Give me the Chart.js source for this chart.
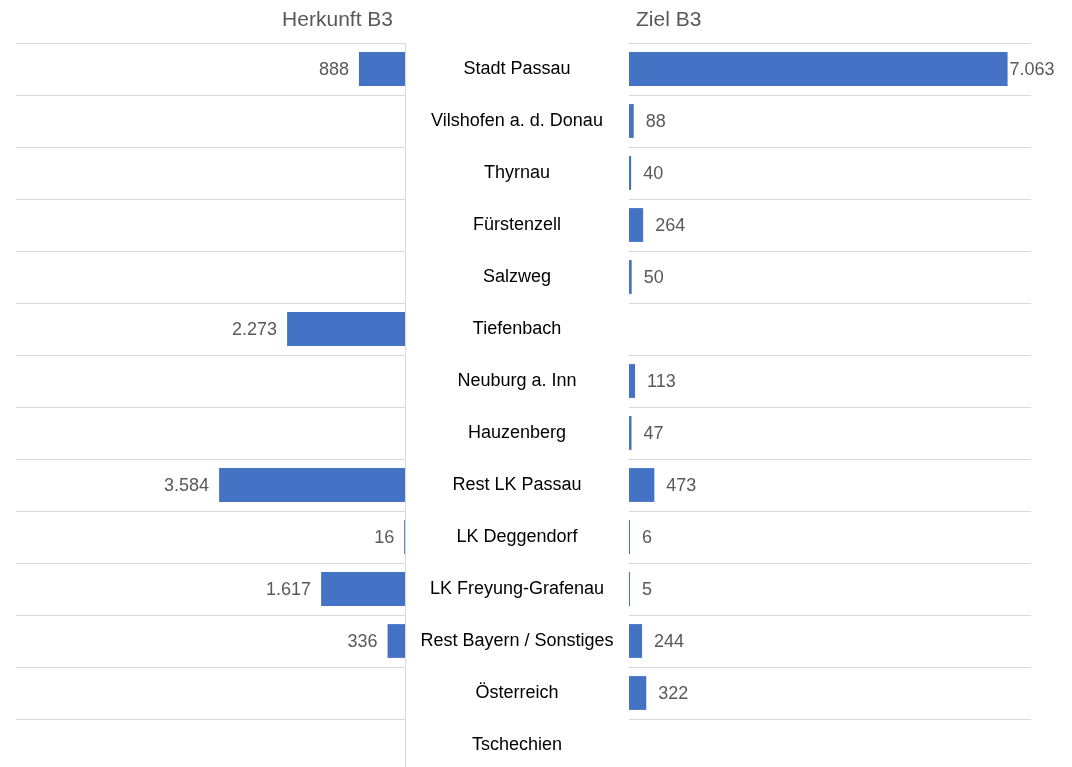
<!DOCTYPE html>
<html>
<head>
<meta charset="utf-8">
<script src="https://cdn.jsdelivr.net/npm/chart.js@4.4.1/dist/chart.umd.min.js"></script>
<style>
  html, body { margin: 0; padding: 0; background: #fff; overflow: hidden; }
  #wrap { position: relative; width: 1072px; height: 767px; overflow: hidden; }
  #leftCanvas  { position: absolute; left: 0;     top: 0; }
  #rightCanvas { position: absolute; left: 629px; top: 0; }
</style>
</head>
<body>
<div id="wrap">
  <canvas id="leftCanvas" width="629" height="800"></canvas>
  <canvas id="rightCanvas" width="443" height="800"></canvas>
</div>
<script>
// data
const categories = [
    'Stadt Passau', 'Vilshofen a. d. Donau', 'Thyrnau', 'Fürstenzell', 'Salzweg',
    'Tiefenbach', 'Neuburg a. Inn', 'Hauzenberg', 'Rest LK Passau', 'LK Deggendorf',
    'LK Freyung-Grafenau', 'Rest Bayern / Sonstiges', 'Österreich', 'Tschechien'
];
const herkunftValues = [888, null, null, null, null, 2273, null, null, 3584, 16, 1617, 336, null, null];
const zielValues     = [7063, 88, 40, 264, 50, null, 113, 47, 473, 6, 5, 244, 322, null];
const leftTitle  = 'Herkunft B3';
const rightTitle = 'Ziel B3';
const axisMax = 7500;

const FONT = '"Liberation Sans", Arial, sans-serif';
const BAR = '#4472C4';
const GRID = '#d9d9d9';
const LABEL_GRAY = '#595959';

// German thousands separator
function fmt(v) {
    return String(v).replace(/\B(?=(\d{3})+(?!\d))/g, '.');
}

// centre the category labels inside the 224px middle column
const midWidth = 224;
const mctx = document.createElement('canvas').getContext('2d');
mctx.font = '18px ' + FONT;
const widest = Math.max(...categories.map(c => mctx.measureText(c).width));
const labelPad = (midWidth - widest) / 2;

// value labels + panel titles
const labelPlugin = {
    id: 'valueLabels',
    afterDatasetsDraw(chart, args, opts) {
        const ctx = chart.ctx;
        const area = chart.chartArea;
        const meta = chart.getDatasetMeta(0);
        const data = chart.data.datasets[0].data;
        ctx.save();
        ctx.font = '18px ' + FONT;
        ctx.fillStyle = LABEL_GRAY;
        ctx.textBaseline = 'middle';
        meta.data.forEach((bar, i) => {
            const v = data[i];
            if (v === null || v === undefined) return;
            const txt = fmt(v);
            if (opts.side === 'left') {
                ctx.textAlign = 'right';
                ctx.fillText(txt, bar.x - 10, bar.y + 1);
            } else {
                ctx.textAlign = 'left';
                let x = bar.x + 12;
                const w = ctx.measureText(txt).width;
                if (x + w > area.right + 20) x = bar.x + 2;
                ctx.fillText(txt, x, bar.y + 1);
            }
        });

        // title
        ctx.font = '21px ' + FONT;
        ctx.fillStyle = LABEL_GRAY;
        if (opts.side === 'left') {
            ctx.textAlign = 'right';
            ctx.fillText(opts.title, area.right - 12, 20);
        } else {
            ctx.textAlign = 'left';
            ctx.fillText(opts.title, area.left + 7, 20);
        }
        ctx.restore();
    }
};

// left: Herkunft (bars grow to the left)
new Chart(document.getElementById('leftCanvas'), {
    type: 'bar',
    data: {
        labels: categories,
        datasets: [{
            data: herkunftValues,
            backgroundColor: BAR,
            barPercentage: 0.65,
            categoryPercentage: 1
        }]
    },
    options: {
        indexAxis: 'y',
        responsive: false,
        animation: false,
        layout: { padding: { top: 43, left: 16, right: 0, bottom: 29 } },
        plugins: {
            legend: { display: false },
            tooltip: { enabled: false },
            valueLabels: { side: 'left', title: leftTitle }
        },
        scales: {
            x: { display: false, reverse: true, min: 0, max: axisMax },
            y: {
                position: 'right',
                grid: { color: GRID, lineWidth: 1, drawTicks: true, tickLength: labelPad, tickColor: 'transparent' },
                border: { display: true, color: GRID, width: 1 },
                ticks: {
                    autoSkip: false,
                    crossAlign: 'center',
                    padding: 0,
                    color: '#000',
                    font: { family: FONT, size: 18 }
                },
                afterFit(scale) { scale.width = midWidth; }
            }
        }
    },
    plugins: [labelPlugin]
});

// right: Ziel
new Chart(document.getElementById('rightCanvas'), {
    type: 'bar',
    data: {
        labels: categories,
        datasets: [{
            data: zielValues,
            backgroundColor: BAR,
            barPercentage: 0.65,
            categoryPercentage: 1,
            minBarLength: 1
        }]
    },
    options: {
        indexAxis: 'y',
        responsive: false,
        animation: false,
        layout: { padding: { top: 43, left: 0, right: 41, bottom: 29 } },
        plugins: {
            legend: { display: false },
            tooltip: { enabled: false },
            valueLabels: { side: 'right', title: rightTitle }
        },
        scales: {
            x: { display: false, min: 0, max: axisMax },
            y: {
                position: 'left',
                grid: { color: GRID, lineWidth: 1, drawTicks: false },
                border: { display: false },
                ticks: { display: false, autoSkip: false },
                afterFit(scale) { scale.width = 0; }
            }
        }
    },
    plugins: [labelPlugin]
});
</script>
</body>
</html>
